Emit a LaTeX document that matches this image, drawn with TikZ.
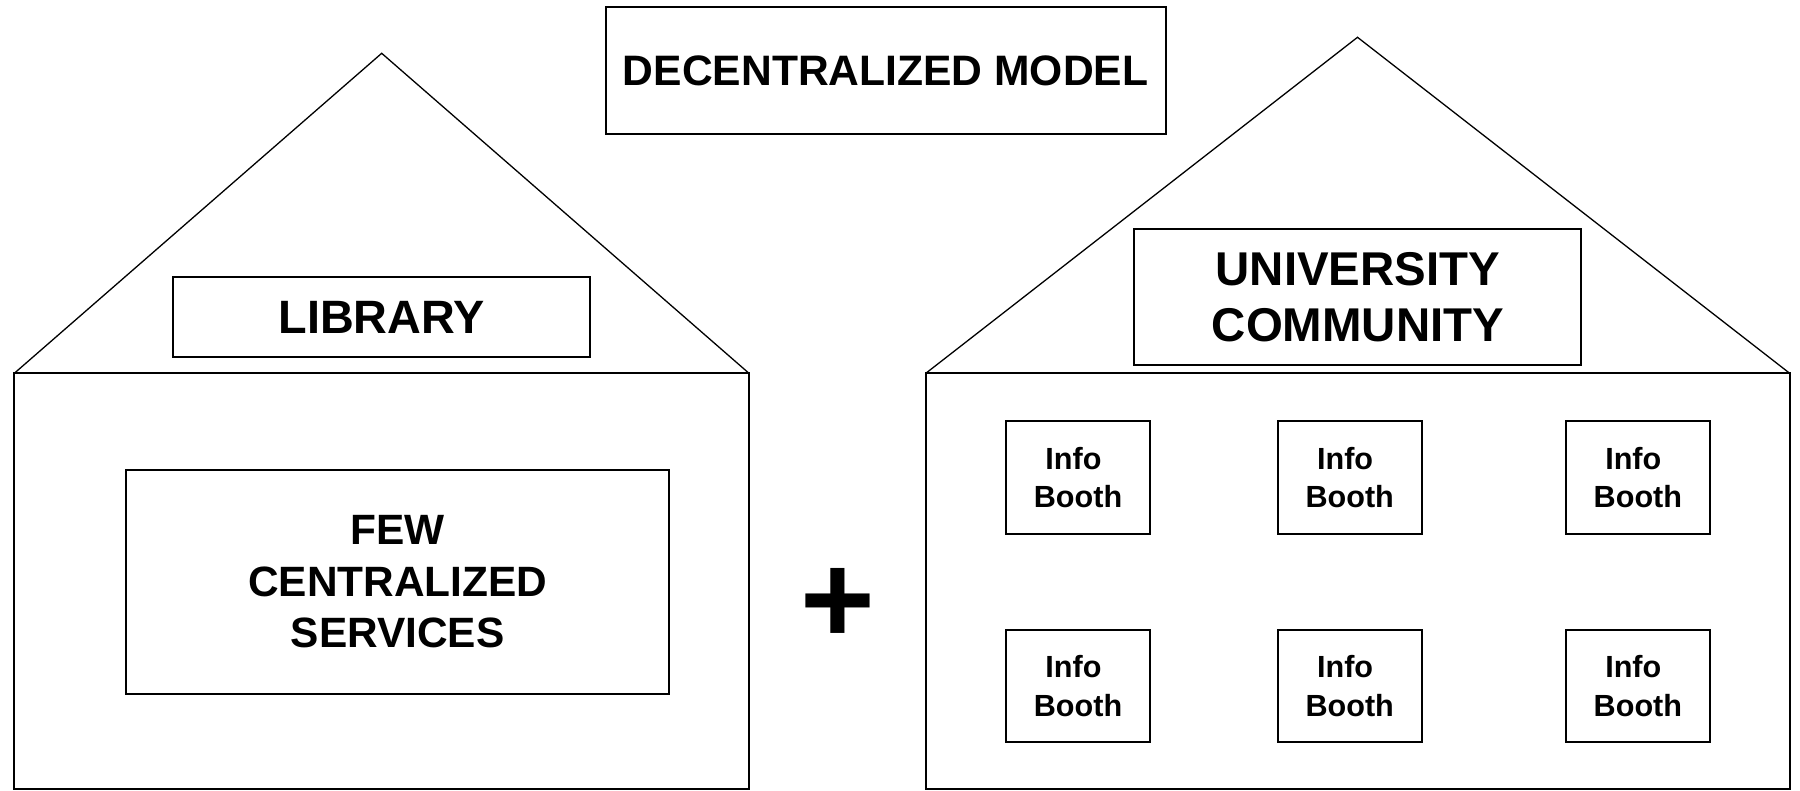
\documentclass[tikz,border=0pt]{standalone}
\usepackage{fontspec}
\setmainfont{Liberation Sans}
\begin{document}
\begin{tikzpicture}[x=0.5pt,y=-0.5pt,
  roofline/.style={line width=0.65pt, line join=miter},
  wallline/.style={line width=0.9pt},
  textbox/.style={draw, line width=1pt, rectangle, inner sep=0pt, align=center},
  booth/.style={textbox, minimum width=72pt, minimum height=56.15pt,
    font=\bfseries\fontsize{15.3}{19.2}\selectfont}]
\useasboundingbox (0,0) rectangle (1800,791);

% ---- left house: library ----
\coordinate (Lbl) at (14.3,373.3);
\coordinate (Lbr) at (749,373.3);
\coordinate (Lap) at (381.7,53.3);
\coordinate (Lfr) at (749,789.3);
\draw[roofline] (Lbl) -- (Lap) -- (Lbr);
\draw[wallline] (Lbl) rectangle (Lfr);

% ---- right house: university community ----
\coordinate (Rbl) at (925.8,373.3);
\coordinate (Rbr) at (1789.7,373.3);
\coordinate (Rap) at (1357.5,37.3);
\coordinate (Rfr) at (1789.7,789.3);
\draw[roofline] (Rbl) -- (Rap) -- (Rbr);
\draw[wallline] (Rbl) rectangle (Rfr);

% ---- title ----
\node[textbox, minimum width=280pt, minimum height=63.75pt,
  font=\bfseries\fontsize{21.3}{25}\selectfont] (title) at (885.6,70.5)
  {DECENTRALIZED MODEL};

% ---- library side ----
\node[textbox, minimum width=208.3pt, minimum height=39.65pt,
  font=\bfseries\fontsize{23.4}{27}\selectfont] (library) at (381.7,317)
  {LIBRARY};
\node[textbox, minimum width=271.75pt, minimum height=111.75pt,
  font=\bfseries\fontsize{21.2}{25.7}\selectfont] (few) at (397.7,581.8)
  {FEW\\CENTRALIZED\\SERVICES};

% ---- plus sign ----
\node[inner sep=0pt, font=\bfseries\fontsize{64}{64}\selectfont] (plus) at (838,606) {+};

% ---- university side ----
\node[textbox, minimum width=223.5pt, minimum height=68pt,
  font=\bfseries\fontsize{23.7}{28}\selectfont] (univ) at (1357.9,297)
  {UNIVERSITY\\COMMUNITY};

\foreach \c/\x in {1/1078,2/1349.7,3/1637.9}
  \foreach \r/\y in {1/477.6,2/685.9}
    \node[booth] (booth\r\c) at (\x,\y) {Info\hspace*{0.3em}\\Booth};
\end{tikzpicture}
\end{document}
